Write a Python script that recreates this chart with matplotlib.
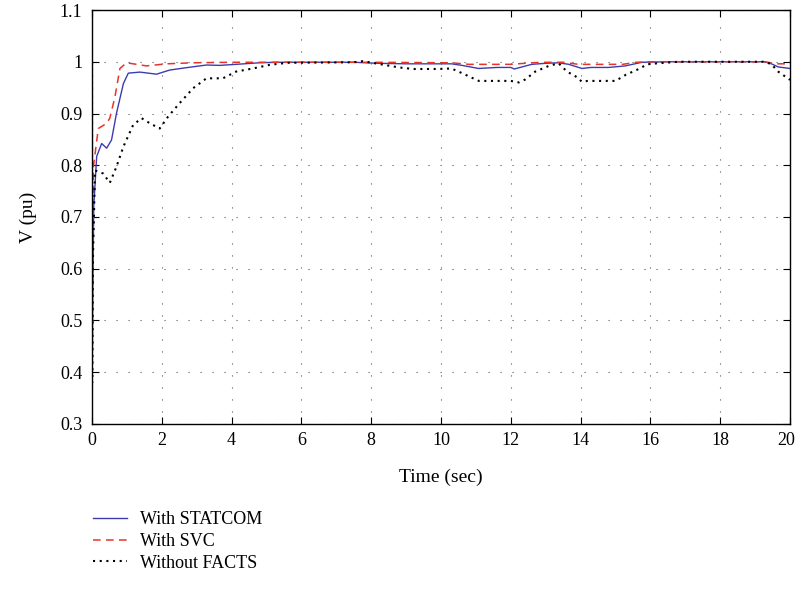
import numpy as np
import matplotlib
matplotlib.use('Agg')
import matplotlib.pyplot as plt
import matplotlib.transforms as mtransforms

plt.rcParams['font.family'] = ['Liberation Serif', 'DejaVu Serif']

# time points (sec) and voltages (pu)
t_statcom = [0, 0.005, 0.02, 0.05, 0.134, 0.277, 0.42, 0.56, 0.70, 0.90, 1.04, 1.37, 1.85, 2.23,
             2.7, 3.28, 3.66, 4.13, 4.8, 5.3, 6.5, 7.5, 8.2, 9.0, 10.3, 10.6, 11.08, 11.6, 12.0,
             12.1, 12.6, 13.0, 13.37, 13.66, 14.04, 14.3, 14.8, 15.28, 15.76, 16.5, 18.0, 19.28,
             19.47, 19.66, 20.0]
v_statcom = [1.02, 0.385, 0.55, 0.72, 0.817, 0.842, 0.833, 0.849, 0.90, 0.958, 0.978, 0.980, 0.976, 0.984,
             0.9885, 0.9937, 0.993, 0.995, 0.998, 0.999, 0.999, 0.999, 0.997, 0.996, 0.996, 0.993, 0.987, 0.989, 0.989,
             0.986, 0.995, 0.997, 0.998, 0.995, 0.987, 0.989, 0.989, 0.992, 0.999, 1.0, 1.0, 1.0,
             0.996, 0.990, 0.987]

t_svc = [0, 0.005, 0.02, 0.04, 0.18, 0.42, 0.51, 0.657, 0.8, 0.99, 1.56, 2.13, 2.9, 4.0, 6.0, 8.0,
         10.3, 10.8, 12.0, 12.6, 13.0, 13.5, 13.94, 14.5, 15.2, 15.6, 16.0, 18.0, 19.28, 19.6, 20.0]
v_svc = [1.0, 0.371, 0.62, 0.797, 0.871, 0.881, 0.891, 0.932, 0.987, 0.998, 0.992, 0.996, 0.998, 0.999, 0.999, 0.999,
         0.998, 0.995, 0.995, 0.998, 0.999, 0.999, 0.995, 0.995, 0.995, 0.999, 1.0, 1.0, 1.0, 0.996, 0.996]

t_nofacts = [0, 0.005, 0.02, 0.086, 0.32, 0.51, 0.70, 0.90, 1.18, 1.42, 1.66, 1.94, 2.18, 2.51, 2.9,
             3.28, 3.75, 4.13, 4.61, 5.09, 5.6, 7.5, 7.75, 7.94, 8.8, 9.2, 9.9, 10.3, 10.6, 11.08,
             11.6, 12.0, 12.23, 12.42, 12.7, 13.09, 13.37, 13.61, 13.9, 14.04, 14.2, 15.0, 15.3,
             15.7, 15.9, 16.2, 16.8, 19.28, 19.47, 19.66, 20.0]
v_nofacts = [1.0, 0.38, 0.6, 0.79, 0.784, 0.766, 0.797, 0.836, 0.878, 0.891, 0.881, 0.871, 0.894, 0.92, 0.949,
             0.968, 0.968, 0.981, 0.987, 0.994, 0.998, 0.999, 1.001, 0.999, 0.989, 0.986, 0.986, 0.987, 0.978, 0.963,
             0.963, 0.963, 0.960, 0.966, 0.981, 0.992, 0.997, 0.981, 0.970, 0.961, 0.963, 0.963, 0.975,
             0.987, 0.995, 0.997, 1.0, 1.0, 0.995, 0.981, 0.965]

x_ticks = np.arange(0, 21, 2)
y_ticks = [0.3, 0.4, 0.5, 0.6, 0.7, 0.8, 0.9, 1.0, 1.1]
y_labels = ['0.3', '0.4', '0.5', '0.6', '0.7', '0.8', '0.9', '1', '1.1']

fig = plt.figure(figsize=(7.98, 5.92), dpi=100)
ax = fig.add_axes([0.1153, 0.2838, 0.8747, 0.6993])

l1, = ax.plot(t_statcom, v_statcom, color='#3c3cb0', lw=1.0, label='With STATCOM')
l2, = ax.plot(t_svc, v_svc, color='#e8332a', lw=1.1, ls=(0, (5, 3.5)), label='With SVC')
l3, = ax.plot(t_nofacts, v_nofacts, color='black', lw=1.5, ls=(0, (1, 2.2)), label='Without FACTS')

ax.set_xlim(0, 20)
ax.set_ylim(0.3, 1.1)
ax.set_xticks(x_ticks)
ax.set_yticks(y_ticks)
ax.set_yticklabels(y_labels)
ax.tick_params(direction='in', top=True, right=True, length=5, labelsize=13)
ax.tick_params(axis='x', pad=6)
ax.tick_params(axis='y', pad=7)
ax.grid(True, color='0.35', ls=(0, (1, 9.8)), lw=0.8)
for s in ax.spines.values():
    s.set_linewidth(1.0)

# last x label sits a bit to the left in the reference
lbl = ax.get_xticklabels()[-1]
lbl.set_transform(lbl.get_transform() + mtransforms.ScaledTranslation(-4 / 100, 0, fig.dpi_scale_trans))

ax.set_xlabel('Time (sec)', fontsize=14, labelpad=14)
ax.set_ylabel('V (pu)', fontsize=14, labelpad=16)

fig.legend(handles=[l1, l2, l3], loc='upper left', bbox_to_anchor=(0.1165, 0.136),
           frameon=False, fontsize=13, handlelength=1.9, handletextpad=0.72, labelspacing=0.25,
           borderpad=0, borderaxespad=0)

fig.savefig('out.png', dpi=100)
